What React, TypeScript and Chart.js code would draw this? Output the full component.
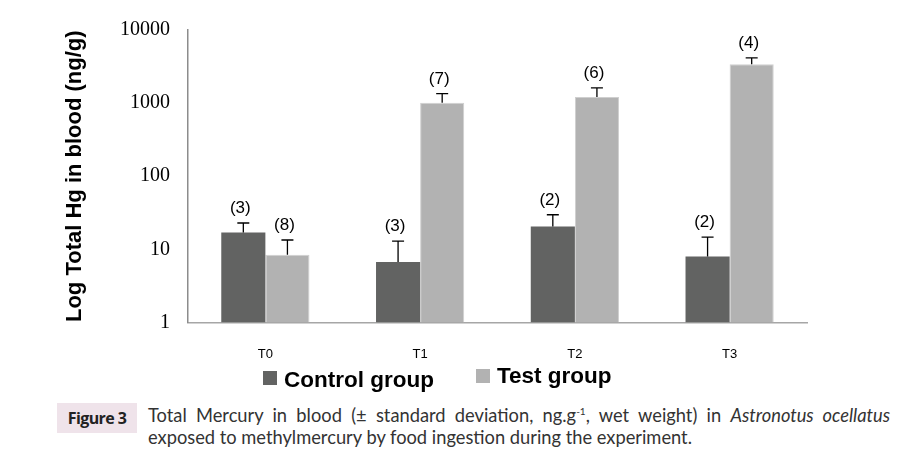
import React, { useEffect, useRef } from "react";
import { Chart, registerables } from "chart.js";

Chart.register(...registerables);

const categories = ["T0", "T1", "T2", "T3"];
const controlValues = [17, 6.7, 20.5, 8];
const controlErrTop = [22.9, 12.9, 29.7, 14.7];
const controlN = ["(3)", "(3)", "(2)", "(2)"];
const testValues = [8.4, 1015, 1216, 3400];
const testErrTop = [13.4, 1350, 1615, 4160];
const testN = ["(8)", "(7)", "(6)", "(4)"];
const yTicks = [1, 10, 100, 1000, 10000];

const CONTROL_COLOR = "#626362";
const TEST_COLOR = "#b2b2b2";

const errorPlugin = {
  id: "errAndN",
  afterDatasetsDraw(chart: any) {
    const ctx = chart.ctx;
    const y = chart.scales.y;
    const tops = [controlErrTop, testErrTop];
    const ns = [controlN, testN];
    ctx.save();
    chart.data.datasets.forEach((_: any, di: number) => {
      const meta = chart.getDatasetMeta(di);
      meta.data.forEach((bar: any, i: number) => {
        const x = bar.x;
        const yTop = y.getPixelForValue(tops[di][i]);
        const yBar = bar.y;
        ctx.strokeStyle = "#000";
        ctx.lineWidth = 1.3;
        ctx.beginPath();
        ctx.moveTo(x, yBar);
        ctx.lineTo(x, yTop);
        ctx.moveTo(x - 6, yTop);
        ctx.lineTo(x + 6, yTop);
        ctx.stroke();
        ctx.fillStyle = "#000";
        ctx.font = "17px 'Liberation Sans', Arial, sans-serif";
        ctx.textAlign = "center";
        ctx.textBaseline = "bottom";
        ctx.fillText(ns[di][i], x - 3, yTop - 6);
      });
    });
    ctx.restore();
  },
};

export default function App() {
  const ref = useRef<HTMLCanvasElement | null>(null);
  useEffect(() => {
    if (!ref.current) return;
    const chart = new Chart(ref.current, {
      type: "bar",
      data: {
        labels: categories,
        datasets: [
          {
            label: "Control group",
            data: controlValues,
            backgroundColor: CONTROL_COLOR,
            borderWidth: 0,
            barPercentage: 1,
            categoryPercentage: 0.57,
          },
          {
            label: "Test group",
            data: testValues,
            backgroundColor: TEST_COLOR,
            borderColor: "#cfcfcf",
            borderWidth: 1,
            barPercentage: 1,
            categoryPercentage: 0.57,
          },
        ],
      },
      options: {
        animation: false,
        responsive: false,
        maintainAspectRatio: false,
        devicePixelRatio: 1,
        layout: { padding: { left: 0, right: 97, top: 18, bottom: 0 } },
        plugins: { legend: { display: false }, tooltip: { enabled: false } },
        scales: {
          x: {
            grid: { display: false, drawTicks: false },
            border: { display: true, color: "#a6a6a6", width: 1.5 },
            ticks: {
              color: "#000",
              padding: 24,
              font: { family: "'Liberation Sans', Arial, sans-serif", size: 13 },
            },
          },
          y: {
            type: "logarithmic",
            min: 1,
            max: 10000,
            afterBuildTicks: (s: any) => {
              s.ticks = yTicks.map((v) => ({ value: v }));
            },
            afterFit: (s: any) => {
              s.width = 188;
            },
            grid: { display: false, drawTicks: false },
            border: { display: true, color: "#8c8c8c", width: 1.5 },
            ticks: {
              color: "#000",
              padding: 18,
              font: { family: "'Liberation Serif', 'Times New Roman', serif", size: 20 },
              callback: (v: any) => String(v),
            },
            title: {
              display: true,
              text: "Log Total Hg in blood (ng/g)",
              color: "#000",
              padding: { top: 62, bottom: 0 },
              font: { family: "'Liberation Sans', Arial, sans-serif", size: 22, weight: "bold" },
            },
          },
        },
      },
      plugins: [errorPlugin],
    } as any);
    return () => chart.destroy();
  }, []);

  const legendText: React.CSSProperties = {
    position: "absolute",
    fontFamily: "'Liberation Sans', Arial, sans-serif",
    fontWeight: "bold",
    fontSize: 22.5,
    color: "#000",
    lineHeight: "24px",
    whiteSpace: "nowrap",
  };
  const box = (c: string): React.CSSProperties => ({
    position: "absolute",
    width: 14,
    height: 14,
    background: c,
  });

  return (
    <div style={{ position: "absolute", left: 0, top: 0, width: 904, height: 463, background: "#fff" }}>
      <canvas ref={ref} width={904} height={386} style={{ position: "absolute", left: 0, top: 0 }} />
      <div style={{ ...box(CONTROL_COLOR), left: 263, top: 371 }} />
      <div style={{ ...legendText, left: 284, top: 368 }}>Control group</div>
      <div style={{ ...box(TEST_COLOR), left: 476, top: 369 }} />
      <div style={{ ...legendText, left: 497, top: 364 }}>Test group</div>
      <div
        style={{
          position: "absolute",
          left: 57,
          top: 403,
          width: 80,
          height: 30,
          background: "#efe3ea",
          fontFamily: "'Open Sans', sans-serif",
          fontWeight: "bold",
          fontSize: 16,
          color: "#222",
          lineHeight: "30px",
          textAlign: "center",
          letterSpacing: -0.6,
        }}
      >
        Figure 3
      </div>
      <div
        style={{
          position: "absolute",
          left: 148,
          top: 404,
          width: 742,
          fontFamily: "Lato, 'Open Sans', sans-serif",
          fontSize: 18.3,
          color: "#333",
          lineHeight: "22px",
          textAlign: "justify",
          textAlignLast: "left",
        }}
      >
        Total Mercury in blood (± standard deviation, ng.g<sup style={{ fontSize: 10, lineHeight: 0 }}>-1</sup>, wet weight) in{" "}
        <i>Astronotus ocellatus</i> exposed to methylmercury by food ingestion during the experiment.
      </div>
    </div>
  );
}
